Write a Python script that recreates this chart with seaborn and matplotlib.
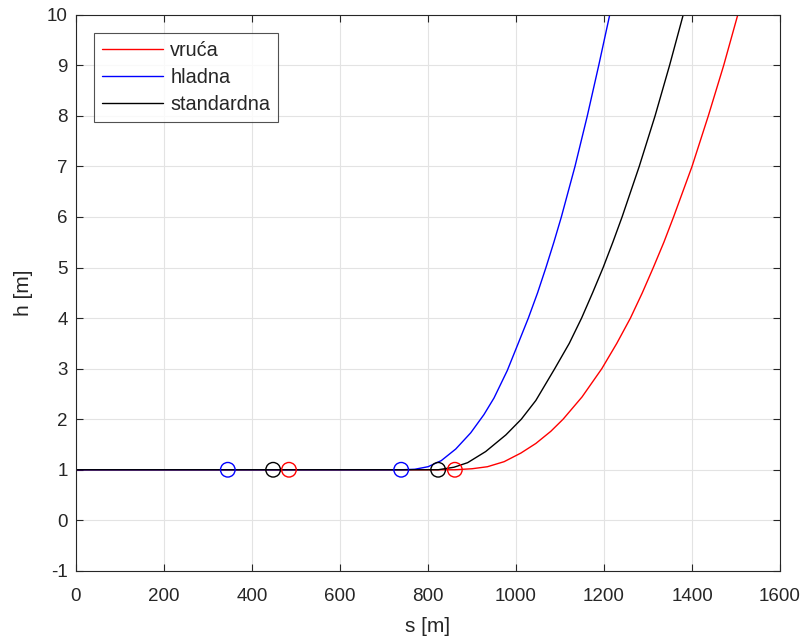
import matplotlib
matplotlib.use("Agg")
import matplotlib.pyplot as plt
import seaborn as sns
import pandas as pd

# curve data (s in m, h in m)
s_vruca = [0, 861, 900, 935, 973, 1011, 1045, 1079, 1107, 1150, 1195, 1229, 1260, 1287,
           1312, 1336, 1358, 1400, 1437, 1472, 1504]
h_vruca = [1, 1, 1.02, 1.06, 1.16, 1.33, 1.52, 1.76, 2.0, 2.44, 3, 3.5, 4, 4.5,
           5, 5.5, 6, 7, 8, 9, 10]

s_hladna = [0, 740, 770, 800, 830, 863, 897, 927, 950, 980, 1005, 1028, 1049, 1068,
            1086, 1103, 1134, 1162, 1188, 1213]
h_hladna = [1, 1, 1.01, 1.06, 1.18, 1.41, 1.73, 2.09, 2.42, 2.96, 3.5, 4, 4.5, 5,
            5.5, 6, 7, 8, 9, 10]

s_std = [0, 823, 859, 890, 931, 977, 1012, 1045, 1088, 1121, 1149, 1174, 1198, 1220,
         1241, 1280, 1316, 1349, 1380]
h_std = [1, 1, 1.05, 1.14, 1.36, 1.69, 2.0, 2.37, 3.0, 3.5, 4, 4.5, 5, 5.5,
         6, 7, 8, 9, 10]

# circle markers on h = 1
mark_vruca = [484, 861]
mark_hladna = [345, 739]
mark_std = [448, 823]

names = ["vruća", "hladna", "standardna"]
colors = {"vruća": "#ff0000", "hladna": "#0000ff", "standardna": "#000000"}

curves = pd.concat([
    pd.DataFrame({"s": s_vruca, "h": h_vruca, "tip": "vruća"}),
    pd.DataFrame({"s": s_hladna, "h": h_hladna, "tip": "hladna"}),
    pd.DataFrame({"s": s_std, "h": h_std, "tip": "standardna"}),
], ignore_index=True)

marks = pd.concat([
    pd.DataFrame({"s": mark_vruca, "h": 1.0, "tip": "vruća"}),
    pd.DataFrame({"s": mark_hladna, "h": 1.0, "tip": "hladna"}),
    pd.DataFrame({"s": mark_std, "h": 1.0, "tip": "standardna"}),
], ignore_index=True)

sns.set_style("whitegrid", {"grid.color": "#e3e3e3", "axes.edgecolor": "#262626",
                            "xtick.direction": "in", "ytick.direction": "in"})
plt.rcParams["font.family"] = ["Liberation Sans", "DejaVu Sans"]
plt.rcParams["axes.unicode_minus"] = False

fig = plt.figure(figsize=(8.05, 6.4), dpi=100)
ax = fig.add_axes([0.0944, 0.108, 0.8746, 0.869])

sns.lineplot(data=curves, x="s", y="h", hue="tip", hue_order=names, palette=colors,
             sort=False, estimator=None, linewidth=1.0, ax=ax)
for name in names:
    sub = marks[marks["tip"] == name]
    ax.scatter(sub["s"], sub["h"], s=110, facecolors="none", edgecolors=colors[name],
               linewidths=1.0, zorder=3)

ax.set_xlim(0, 1600)
ax.set_ylim(-1, 10)
ax.set_xticks(range(0, 1601, 200))
ax.set_yticks(range(-1, 11))
ax.tick_params(axis="both", labelsize=13.5, colors="#262626", direction="in",
               length=5, width=0.8, top=True, right=True, bottom=True, left=True)
ax.tick_params(axis="x", pad=12)
ax.tick_params(axis="y", pad=6)
ax.set_xlabel("s [m]", fontsize=15, color="#262626", labelpad=9)
ax.set_ylabel("h [m]", fontsize=15, color="#262626", labelpad=10)
for sp in ax.spines.values():
    sp.set_linewidth(0.8)
    sp.set_color("#262626")

leg = ax.legend(loc="upper left", fontsize=14.3, frameon=True, fancybox=False,
                edgecolor="#262626", borderaxespad=0.9, handlelength=3.1,
                labelspacing=0.42, borderpad=0.4, handletextpad=0.35)
leg.get_frame().set_linewidth(0.8)

fig.savefig("out.png", dpi=100)
plt.close(fig)
